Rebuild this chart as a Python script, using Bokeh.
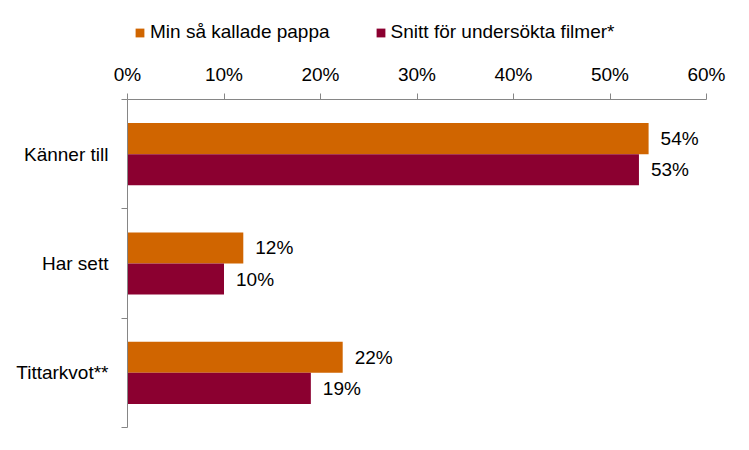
from bokeh.plotting import figure
from bokeh.layouts import column
from bokeh.models import (ColumnDataSource, Range1d, FixedTicker, Legend, LegendItem,
                          PrintfTickFormatter)
from bokeh.transform import dodge
from bokeh.embed import file_html
from bokeh.resources import INLINE
from bokeh.core.properties import value

categories = ["Känner till", "Har sett", "Tittarkvot**"]
series_names = ["Min så kallade pappa", "Snitt för undersökta filmer*"]
pappa = [54, 12, 22.3]
snitt = [53, 10, 19]
pappa_labels = ["54%", "12%", "22%"]
snitt_labels = ["53%", "10%", "19%"]
x_ticks = [0, 10, 20, 30, 40, 50, 60]

colors = ["#D06500", "#8B0030"]
FONT = "Liberation Sans"
FS = "19px"
AXC = "#868686"

ypos = [i + 0.5 for i in range(len(categories))]
src = ColumnDataSource(dict(y=ypos, pappa=pappa, snitt=snitt,
                            pl=pappa_labels, sl=snitt_labels))

# ---------- legend strip (frame aligned with the chart below) ----------
lg = figure(width=733, height=55, output_backend="svg", toolbar_location=None,
            x_axis_type=None, y_axis_type=None, min_border=0,
            x_range=Range1d(0, 1), y_range=Range1d(0, 1))
lg.outline_line_color = None
lg.xgrid.visible = False
lg.ygrid.visible = False
# zero-size proxy glyphs, only used to give the legend its swatches
d1 = lg.hbar(y=[0], right=[0], left=[0], height=0, color=colors[0], line_color=None)
d2 = lg.hbar(y=[0], right=[0], left=[0], height=0, color=colors[1], line_color=None)
legend = Legend(items=[LegendItem(label=series_names[0], renderers=[d1]),
                       LegendItem(label=series_names[1], renderers=[d2])],
                orientation="horizontal", location=(7, 12),
                glyph_width=11, glyph_height=11, label_standoff=5, spacing=45,
                padding=0, margin=0, border_line_color=None,
                background_fill_alpha=0,
                label_text_font=FONT, label_text_font_size=FS,
                label_text_color="black")
lg.add_layout(legend, "center")

# ---------- main chart ----------
p = figure(width=733, height=379, output_backend="svg", toolbar_location=None,
           x_range=Range1d(0, 60), y_range=Range1d(3, 0),
           x_axis_location="above",
           min_border_left=127, min_border_top=44, min_border_right=27,
           min_border_bottom=7)
p.outline_line_color = None
p.xgrid.visible = False
p.ygrid.visible = False

bh = 0.284
off = bh / 2
p.hbar(y=dodge("y", -off, range=p.y_range), right="pappa", left=0, height=bh,
       color=colors[0], line_color=None, source=src)
p.hbar(y=dodge("y", off, range=p.y_range), right="snitt", left=0, height=bh,
       color=colors[1], line_color=None, source=src)

p.text(x="pappa", y=dodge("y", -off, range=p.y_range), text="pl", source=src,
       x_offset=12, text_align="left", text_baseline="middle",
       text_font=value(FONT), text_font_size=FS, text_color="black")
p.text(x="snitt", y=dodge("y", off, range=p.y_range), text="sl", source=src,
       x_offset=12, text_align="left", text_baseline="middle",
       text_font=value(FONT), text_font_size=FS, text_color="black")

xa = p.xaxis[0]
xa.ticker = FixedTicker(ticks=x_ticks, minor_ticks=[])
xa.formatter = PrintfTickFormatter(format="%d%%")
xa.axis_line_color = AXC
xa.major_tick_line_color = AXC
xa.major_tick_in = 0
xa.major_tick_out = 6
xa.minor_tick_line_color = None
xa.major_label_standoff = 9
xa.major_label_text_font = FONT
xa.major_label_text_font_size = FS
xa.major_label_text_color = "black"

ya = p.yaxis[0]
ya.ticker = FixedTicker(ticks=ypos, minor_ticks=[0, 1, 2, 3])
ya.major_label_overrides = {y: c for y, c in zip(ypos, categories)}
ya.axis_line_color = AXC
ya.major_tick_line_color = None
ya.major_tick_in = 0
ya.major_tick_out = 0
ya.minor_tick_line_color = AXC
ya.minor_tick_in = 0
ya.minor_tick_out = 6
ya.major_label_standoff = 13
ya.major_label_text_font = FONT
ya.major_label_text_font_size = FS
ya.major_label_text_color = "black"

layout = column(lg, p, spacing=0)
open("out.html", "w").write(file_html(layout, INLINE))
